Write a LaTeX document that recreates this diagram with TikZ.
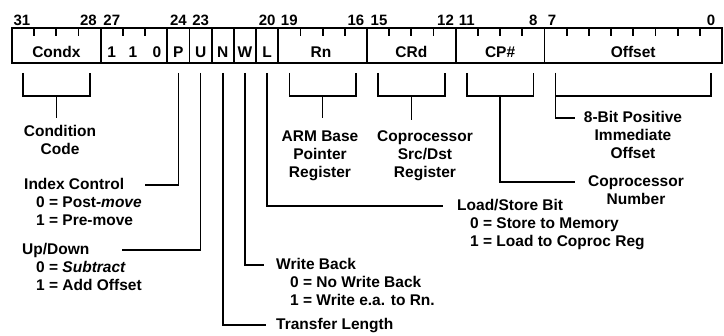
\documentclass[tikz,border=0pt]{standalone}
\usepackage{fontspec}
\setmainfont{Liberation Sans}
\usetikzlibrary{calc}
\begin{document}
\begin{tikzpicture}[x=1pt,y=-1pt,
  txt/.style={font=\fontsize{15.5}{18}\selectfont\bfseries, inner sep=0pt, anchor=base},
  ltxt/.style={txt, anchor=base west},
  num/.style={font=\fontsize{15}{16}\selectfont\bfseries, inner sep=0pt},
  fld/.style={font=\fontsize{15.5}{18}\selectfont\bfseries, inner sep=0pt},
  wire/.style={line width=1.6pt},
  regline/.style={line width=1.8pt},
]
\useasboundingbox (0,0) rectangle (724,336);
% register box
\draw[regline] (12,28) rectangle (722,63);
\foreach \k in {4,7,8,9,10,11,12,16,20,24}
  \draw[regline] ({12+\k*22.1875},28) -- ({12+\k*22.1875},63);
\foreach \k in {1,2,3,5,6,13,14,15,17,18,19,21,22,23,25,26,27,28,29,30,31}
  \draw[regline] ({12+\k*22.1875},28) -- ({12+\k*22.1875},36);
% bit numbers
\node[num] (b31) at (22,20) {31};
\node[num] (b28) at (88.5,20) {28};
\node[num] (b27) at (111.8,20) {27};
\node[num] (b24) at (178.4,20) {24};
\node[num] (b23) at (200.6,20) {23};
\node[num] (b20) at (267.2,20) {20};
\node[num] (b19) at (289.3,20) {19};
\node[num] (b16) at (355.9,20) {16};
\node[num] (b15) at (379,20) {15};
\node[num] (b12) at (445.5,20) {12};
\node[num] (b11) at (466.8,20) {11};
\node[num] (b8) at (533.4,20) {8};
\node[num] (b7) at (552,20) {7};
\node[num] (b0) at (711,20) {0};
% field labels
\node[fld] (fcond) at (56.4,52) {Condx};
\node[fld] (f27) at (111.8,52) {1};
\node[fld] (f26) at (133,52) {1};
\node[fld] (f25) at (157,52) {0};
\node[fld] (fP) at (178.4,52) {P};
\node[fld] (fU) at (200.6,52) {U};
\node[fld] (fN) at (222.8,52) {N};
\node[fld] (fW) at (245,52) {W};
\node[fld] (fL) at (267.2,52) {L};
\node[fld] (fRn) at (321,52) {Rn};
\node[fld] (fCRd) at (411.4,52) {CRd};
\node[fld] (fCP) at (500.1,52) {CP\#};
\node[fld] (fOff) at (633.2,52) {Offset};
% brackets
\foreach \l/\r/\n in {23.1/89.7/cond, 289.3/355.9/rn, 378.1/444.7/crd, 466.8/533.4/cp, 555.6/710.9/off} {
  \coordinate (\n-L) at (\l,73);
  \coordinate (\n-R) at (\r,73);
  \coordinate (\n-M) at ({(\l+\r)/2},96);
  \draw[wire] (\n-L) -- ++(0,23) -| (\n-R);
}
% bracket texts
\node[txt] (cond1) at (60,137) {Condition};
\node[txt] (cond2) at (60,155) {Code};
\node[txt] (rn1) at (320,142) {ARM Base};
\node[txt] (rn2) at (320,160) {Pointer};
\node[txt] (rn3) at (320,178) {Register};
\node[txt] (crd1) at (425,142) {Coprocessor};
\node[txt] (crd2) at (425,160) {Src/Dst};
\node[txt] (crd3) at (425,178) {Register};
\node[txt] (off1) at (633,123) {8-Bit Positive};
\node[txt] (off2) at (633,141) {Immediate};
\node[txt] (off3) at (633,159) {Offset};
\node[txt] (cp1) at (636,187) {Coprocessor};
\node[txt] (cp2) at (636,205) {Number};
% stems
\draw[wire] (cond-M) -- ++(0,22);
\draw[wire] (rn-M) -- ++(0,22);
\draw[wire] (crd-M) -- ++(0,24);
\coordinate (cpEnd) at (575,182);
\coordinate (offEnd) at (575,118);
\draw[wire] (cp-M) |- (cpEnd);
\draw[wire] (off-L) |- (offEnd);
% single bit texts
\node[ltxt] (pidx) at (24,190) {Index Control};
\node[ltxt] (pidx0) at (36,208) {0 = Post\textit{-move}};
\node[ltxt] (pidx1) at (36,226) {1 = Pre-move};
\node[ltxt] (uud) at (22,255) {Up/Down};
\node[ltxt] (uud0) at (36,273) {0 = \textit{Subtract}};
\node[ltxt] (uud1) at (36,291) {1 = Add Offset};
\node[ltxt] (lls) at (457,211) {Load/Store Bit};
\node[ltxt] (lls0) at (470,229) {0 = Store to Memory};
\node[ltxt] (lls1) at (470,247) {1 = Load to Coproc Reg};
\node[ltxt] (wwb) at (276,270) {Write Back};
\node[ltxt] (wwb0) at (290,288) {0 = No Write Back};
\node[ltxt] (wwb1) at (290,306) {1 = Write e.a. to Rn.};
\node[ltxt] (ntl) at (276,330) {Transfer Length};
% single bit connectors
\coordinate (pTop) at (178.4,73);
\coordinate (uTop) at (200.6,73);
\coordinate (nTop) at (222.8,73);
\coordinate (wTop) at (245,73);
\coordinate (lTop) at (267.2,73);
\coordinate (pEnd) at (145,185);
\coordinate (uEnd) at (122,250);
\coordinate (nEnd) at (266,325);
\coordinate (wEnd) at (264,265);
\coordinate (lEnd) at (443,206);
\draw[wire] (pTop) |- (pEnd);
\draw[wire] (uTop) |- (uEnd);
\draw[wire] (nTop) |- (nEnd);
\draw[wire] (wTop) |- (wEnd);
\draw[wire] (lTop) |- (lEnd);
\end{tikzpicture}
\end{document}
